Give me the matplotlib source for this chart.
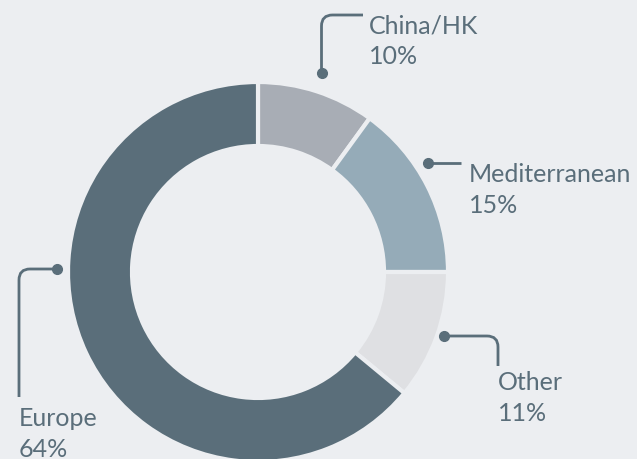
import matplotlib
matplotlib.use("Agg")
from matplotlib import pyplot as plt
from matplotlib.path import Path
from matplotlib.patches import PathPatch

labels = ["China/HK", "Mediterranean", "Other", "Europe"]
shares = [10, 15, 11, 64]
colors = ["#a8adb5", "#95abb8", "#dfe0e3", "#5a6e7a"]

bg = "#eceef1"
ink = "#5a6e7a"

W, H = 637, 460
fig = plt.figure(figsize=(W / 100, H / 100), dpi=100, facecolor=bg)
ax = fig.add_axes([0, 0, 1, 1])
ax.set_facecolor(bg)

# pixel coords, y pointing down (so the pie runs clockwise with counterclock=True)
ax.pie(shares, colors=colors, center=(258, 273), radius=190,
       startangle=-90, counterclock=True,
       wedgeprops=dict(width=64, edgecolor=bg, linewidth=3))
ax.set_xlim(0, W)
ax.set_ylim(H, 0)
ax.set_aspect("equal")
ax.axis("off")


def leader(pts, r=11):
    # polyline with rounded corners, dot at first point
    verts = [pts[0]]
    codes = [Path.MOVETO]
    for i in range(1, len(pts) - 1):
        p0, p1, p2 = pts[i - 1], pts[i], pts[i + 1]
        d1 = ((p1[0] - p0[0]), (p1[1] - p0[1]))
        l1 = (d1[0] ** 2 + d1[1] ** 2) ** 0.5
        d2 = ((p2[0] - p1[0]), (p2[1] - p1[1]))
        l2 = (d2[0] ** 2 + d2[1] ** 2) ** 0.5
        a = (p1[0] - d1[0] / l1 * r, p1[1] - d1[1] / l1 * r)
        b = (p1[0] + d2[0] / l2 * r, p1[1] + d2[1] / l2 * r)
        verts += [a, p1, b]
        codes += [Path.LINETO, Path.CURVE3, Path.CURVE3]
    verts.append(pts[-1])
    codes.append(Path.LINETO)
    ax.add_patch(PathPatch(Path(verts, codes), fill=False, edgecolor=ink, lw=2))
    ax.plot(*pts[0], "o", color=ink, ms=7)


leaders = [
    [(321.5, 74), (321.5, 16), (363, 16)],
    [(428, 164), (461, 164)],
    [(444, 337), (498, 337), (498, 367)],
    [(57, 270), (19, 270), (19, 398)],
]
text_pos = [(369, 33), (469, 182), (498, 390), (19, 426)]

for lab, sh, pts, (tx, ty) in zip(labels, shares, leaders, text_pos):
    leader(pts)
    ax.text(tx, ty, lab, color=ink, fontsize=18, family="Lato",
            va="baseline", ha="left")
    ax.text(tx, ty + 31, f"{sh}%", color=ink, fontsize=18, family="Lato",
            va="baseline", ha="left")

fig.savefig("out.png", dpi=100, facecolor=bg)
